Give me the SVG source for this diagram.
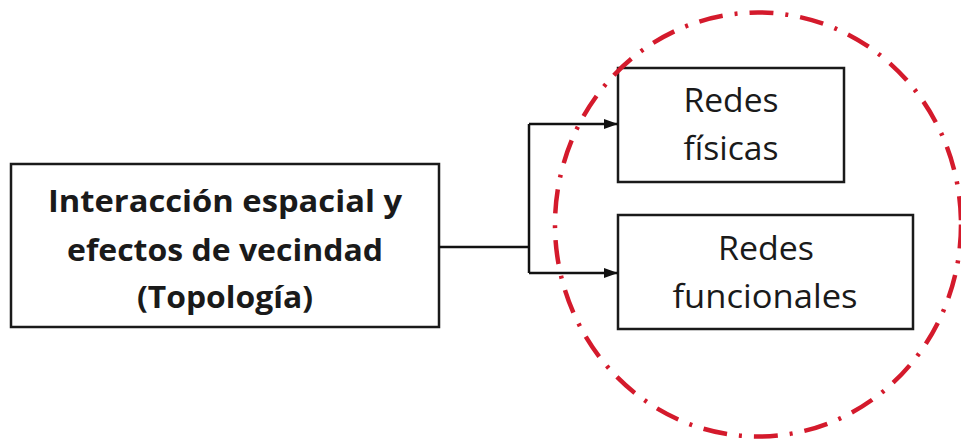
<svg xmlns="http://www.w3.org/2000/svg" width="961" height="440" viewBox="0 0 961 440">
<defs>
<style>
.box{fill:#fff;stroke:#1a1a1a;stroke-width:2.5}
.bt{font-family:"Open Sans","Liberation Sans",sans-serif;font-weight:bold;font-size:30px;fill:#1a1a1a;text-anchor:middle}
.rt{font-family:"Open Sans","Liberation Sans",sans-serif;font-size:32px;fill:#1a1a1a;text-anchor:middle}
.conn{fill:none;stroke:#111;stroke-width:2.5}
</style>
<marker id="arr" viewBox="0 0 14 10" refX="14" refY="5" markerWidth="14" markerHeight="10" markerUnits="userSpaceOnUse" orient="auto">
<path d="M0,0 L14,5 L0,10 Z" fill="#111"/>
</marker>
</defs>
<rect width="961" height="440" fill="#fff"/>
<g id="node-main">
<rect class="box" x="11" y="164" width="428" height="163"/>
<text class="bt" x="225" y="212" textLength="354" lengthAdjust="spacingAndGlyphs">Interacción espacial y</text>
<text class="bt" x="225" y="261" textLength="316" lengthAdjust="spacingAndGlyphs">efectos de vecindad</text>
<text class="bt" x="225" y="308" textLength="176" lengthAdjust="spacingAndGlyphs">(Topología)</text>
</g>
<g id="node-fisicas">
<rect class="box" x="618" y="68" width="226" height="114"/>
<text class="rt" x="731" y="112" textLength="95" lengthAdjust="spacingAndGlyphs">Redes</text>
<text class="rt" x="731" y="160" textLength="95" lengthAdjust="spacingAndGlyphs">físicas</text>
</g>
<g id="node-funcionales">
<rect class="box" x="618" y="215" width="295" height="114"/>
<text class="rt" x="766" y="260" textLength="96" lengthAdjust="spacingAndGlyphs">Redes</text>
<text class="rt" x="765" y="308" textLength="185" lengthAdjust="spacingAndGlyphs">funcionales</text>
</g>
<g id="connectors">
<path class="conn" d="M439,247 H529"/>
<path class="conn" d="M529,124 V273"/>
<path class="conn" d="M529,124 H618" marker-end="url(#arr)"/>
<path class="conn" d="M529,273 H618" marker-end="url(#arr)"/>
</g>
<g id="highlight">
<ellipse cx="758" cy="224.5" rx="203" ry="212" fill="none" stroke="#d41a2c" stroke-width="4.5" stroke-dasharray="24 12 3 12"/>
</g>
</svg>
